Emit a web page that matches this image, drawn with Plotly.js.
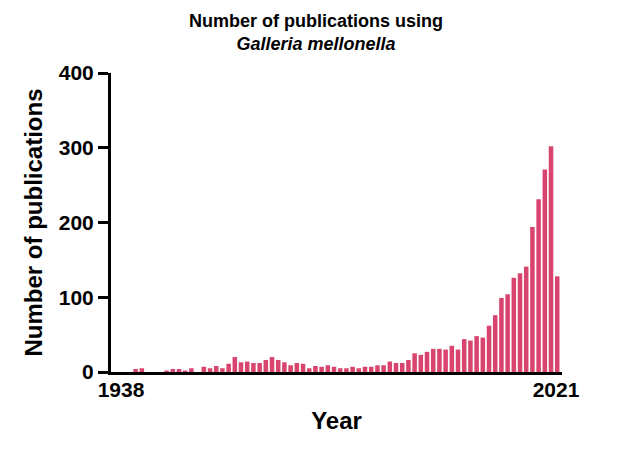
<!DOCTYPE html>
<html>
<head>
<meta charset="utf-8">
<script src="https://cdn.plot.ly/plotly-3.0.1.min.js"></script>
<style>
  body { margin: 0; background: #fff; }
  #chart { width: 632px; height: 457px; }
</style>
</head>
<body>
<div id="chart"></div>
<script>
// one bar per year
const years = []
for (let y = 1954; y <= 2022; y++) years.push(y)

const publications = [
    4, 5, 0, 0, 0, 2, 4, 4, 2, 5,
    0, 7, 5, 8, 5, 11, 20, 13, 14, 12,
    12, 16, 20, 16, 13, 9, 12, 11, 5, 8,
    7, 9, 7, 5, 5, 7, 5, 7, 7, 9,
    9, 14, 12, 12, 16, 25, 23, 27, 31, 31,
    30, 35, 30, 44, 42, 48, 46, 62, 76, 99,
    104, 126, 132, 141, 194, 231, 271, 302, 128
]

const yTicks = [0, 100, 200, 300, 400]
const xTickLabels = ['1938', '2021']

const barColor = '#d9446f'
const font = 'Liberation Sans, Arial, sans-serif'

let data = [{
    type: 'bar',
    x: years,
    y: publications,
    marker: { color: barColor, line: { width: 0 } },
    hoverinfo: 'x+y'
}]

let layout = {
    width: 632,
    height: 457,
    margin: { l: 111, r: 70, t: 73, b: 85 },
    paper_bgcolor: '#fff',
    plot_bgcolor: '#fff',
    showlegend: false,
    bargap: 0.27,
    font: { family: font, color: '#000' },
    title: {
        text: 'Number of publications using<br><i>Galleria mellonella</i>',
        font: { family: font, size: 18, weight: 'bold', color: '#000' },
        x: 0.5,
        xref: 'container',
        xanchor: 'center',
        y: 1 - 27 / 457,
        yref: 'container',
        yanchor: 'middle'
    },
    xaxis: {
        type: 'linear',
        range: [1950.03, 2022.77],
        tickvals: [1951.65, 2021.8],
        ticktext: xTickLabels,
        ticks: '',
        ticklabelstandoff: -3,
        showgrid: false,
        zeroline: false,
        showline: true,
        linecolor: '#000',
        linewidth: 3,
        tickfont: { family: font, size: 21, weight: 'bold', color: '#000' },
        title: {
            text: 'Year',
            standoff: 12,
            font: { family: font, size: 24, weight: 'bold', color: '#000' }
        }
    },
    yaxis: {
        range: [0, 400],
        tickvals: yTicks,
        ticks: 'outside',
        ticklen: 10,
        tickwidth: 3,
        tickcolor: '#000',
        showgrid: false,
        zeroline: false,
        showline: true,
        linecolor: '#000',
        linewidth: 3,
        tickfont: { family: font, size: 21, weight: 'bold', color: '#000' },
        title: {
            text: 'Number of publications',
            standoff: 10,
            font: { family: font, size: 24, weight: 'bold', color: '#000' }
        }
    }
}

Plotly.newPlot('chart', data, layout, { displayModeBar: false, staticPlot: true })
</script>
</body>
</html>
